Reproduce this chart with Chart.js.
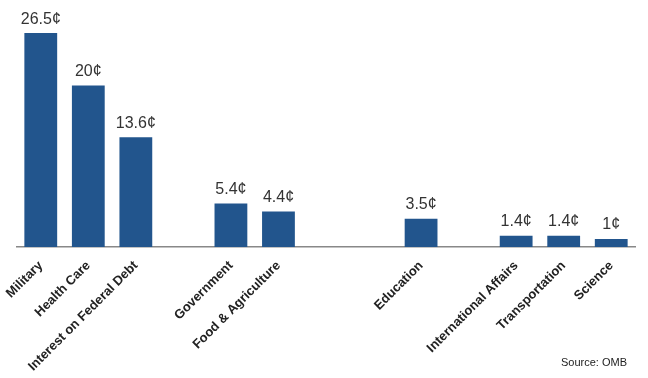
<!DOCTYPE html>
<html>
<head>
<meta charset="utf-8">
<script src="https://cdn.jsdelivr.net/npm/chart.js@4.4.1/dist/chart.umd.min.js"></script>
<style>
  html, body { margin: 0; padding: 0; background: #fff; }
  #wrap { position: relative; width: 648px; height: 378px; }
</style>
</head>
<body>
<div id="wrap"><canvas id="grafico" width="648" height="378"></canvas></div>
<script>
// Categorías (las vacías son huecos en el gráfico)
const categorias = [
  "Military", "Health Care", "Interest on Federal Debt", "",
  "Government", "Food & Agriculture", "", "",
  "Education", "", "International Affairs", "Transportation", "Science"
];
// Centavos por dólar
const valores = [26.5, 20, 13.6, null, 5.4, 4.4, null, null, 3.5, null, 1.4, 1.4, 1];
const fuente = "Source: OMB";

// Etiquetas de valor sobre cada barra
const etiquetasValor = {
  id: "etiquetasValor",
  afterDatasetsDraw(chart) {
    const ctx = chart.ctx;
    const meta = chart.getDatasetMeta(0);
    ctx.save();
    ctx.font = "16px 'Liberation Sans', Arial, sans-serif";
    ctx.fillStyle = "#333";
    ctx.textAlign = "center";
    ctx.textBaseline = "bottom";
    meta.data.forEach((bar, i) => {
      if (valores[i] === null) return;
      ctx.fillText(valores[i] + "¢", bar.x, bar.y - 6);
    });
    // Fuente abajo a la derecha
    ctx.font = "11px 'Liberation Sans', Arial, sans-serif";
    ctx.fillStyle = "#222";
    ctx.textAlign = "right";
    ctx.textBaseline = "middle";
    ctx.fillText(fuente, 627, 363);
    ctx.restore();
  }
};

new Chart(document.getElementById("grafico").getContext("2d"), {
  type: "bar",
  data: {
    labels: categorias,
    datasets: [{
      data: valores,
      backgroundColor: "#22558d",
      categoryPercentage: 1,
      barPercentage: 0.69
    }]
  },
  options: {
    responsive: false,
    animation: false,
    layout: { padding: { left: 17, right: 13, top: 0, bottom: 0 } },
    plugins: { legend: { display: false }, tooltip: { enabled: false } },
    scales: {
      x: {
        grid: { display: false },
        border: { color: "#888", width: 1.5 },
        ticks: {
          minRotation: 45,
          maxRotation: 45,
          autoSkip: false,
          color: "#222",
          padding: 3,
          font: { family: "'Liberation Sans', Arial, sans-serif", size: 13, weight: "bold" }
        },
        afterFit(scale) { scale.height = 131; }
      },
      y: {
        display: false,
        min: 0,
        max: 30.6
      }
    }
  },
  plugins: [etiquetasValor]
});
</script>
</body>
</html>
